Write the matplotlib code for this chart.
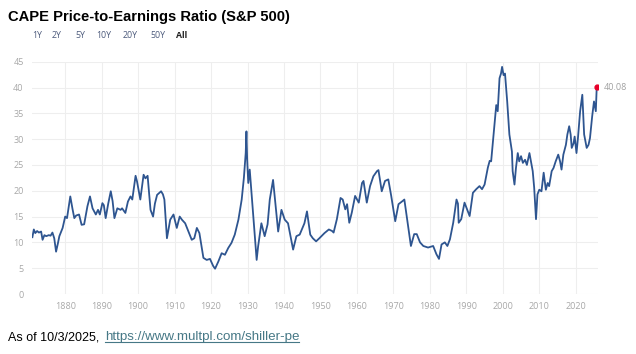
import numpy as np
import matplotlib
matplotlib.use("Agg")
import matplotlib.pyplot as plt
from matplotlib.lines import Line2D

# CAPE ratio (fractional years)
years = [1871.0, 1871.4, 1871.8, 1872.3, 1872.8, 1873.4, 1873.8, 1874.3, 1874.8, 1875.5,
         1876.0, 1876.5, 1877.0, 1877.5, 1878.0, 1878.4, 1879.3, 1880.0, 1880.5, 1881.4,
         1882.0, 1882.5, 1883.0, 1883.8, 1884.5, 1885.2, 1886.1, 1886.8, 1887.5, 1888.4,
         1889.0, 1889.5, 1890.2, 1890.6, 1891.1, 1891.8, 1892.5, 1893.0, 1893.5, 1894.3,
         1895.2, 1895.6, 1896.5, 1897.2, 1897.9, 1898.4, 1899.3, 1899.7, 1900.6, 1901.5,
         1902.0, 1902.6, 1903.4, 1904.1, 1904.6, 1905.2, 1906.3, 1906.8, 1907.2, 1907.9,
         1908.8, 1909.7, 1910.6, 1911.4, 1912.0, 1912.9, 1913.8, 1914.7, 1915.4, 1916.1,
         1916.8, 1917.9, 1918.8, 1919.7, 1920.6, 1921.1, 1922.0, 1922.9, 1923.8, 1924.7,
         1925.6, 1926.5, 1927.5, 1928.4, 1929.0, 1929.5, 1929.7, 1929.9, 1930.2, 1930.6,
         1931.5, 1932.0, 1932.5, 1932.9, 1933.8, 1934.7, 1935.5, 1936.1, 1937.0, 1937.9,
         1938.4, 1939.3, 1940.2, 1941.1, 1942.5, 1943.4, 1944.3, 1945.6, 1946.3, 1947.2,
         1947.9, 1948.8, 1949.7, 1951.1, 1952.3, 1953.2, 1953.6, 1954.5, 1955.5, 1956.1,
         1956.8, 1957.3, 1957.9, 1958.6, 1959.5, 1960.5, 1961.4, 1961.8, 1962.7, 1963.6,
         1964.5, 1965.5, 1965.9, 1966.8, 1967.7, 1968.6, 1969.4, 1970.5, 1971.4, 1972.5,
         1973.0, 1973.9, 1974.8, 1975.7, 1976.4, 1977.3, 1978.2, 1979.5, 1980.9, 1981.8,
         1982.5, 1983.2, 1984.1, 1984.8, 1985.5, 1986.4, 1987.3, 1987.7, 1987.9, 1988.6,
         1989.5, 1990.5, 1990.9, 1991.8, 1992.7, 1993.6, 1994.3, 1995.0, 1995.9, 1996.4,
         1996.8, 1997.3, 1997.7, 1998.2, 1998.6, 1999.1, 1999.5, 1999.8, 2000.2, 2000.6,
         2001.2, 2001.8, 2002.5, 2002.7, 2003.2, 2003.6, 2004.1, 2004.5, 2005.0, 2005.5,
         2006.1, 2006.6, 2007.3, 2007.7, 2008.2, 2008.6, 2009.1, 2009.5, 2010.0, 2010.6,
         2011.2, 2011.8, 2012.3, 2012.7, 2013.4, 2013.9, 2014.5, 2015.2, 2015.7, 2016.1,
         2016.6, 2017.3, 2017.7, 2018.2, 2018.6, 2018.9, 2019.4, 2019.7, 2020.2, 2020.6,
         2021.2, 2021.8, 2022.3, 2023.0, 2023.5, 2023.9, 2024.5, 2025.0, 2025.5, 2025.75]
cape = [11.0, 12.5, 11.8, 12.2, 11.9, 12.1, 10.5, 11.4, 11.2, 11.4,
        11.3, 11.9, 10.8, 8.2, 9.8, 11.2, 12.8, 15.0, 14.7, 18.9,
        16.5, 14.7, 15.2, 15.4, 13.4, 13.5, 17.0, 18.9, 16.6, 15.4,
        16.3, 15.4, 17.6, 17.2, 14.7, 17.5, 19.9, 18.0, 14.7, 16.6,
        16.3, 16.6, 15.7, 17.9, 18.9, 18.3, 22.9, 21.8, 18.3, 23.1,
        22.4, 22.9, 16.3, 15.0, 17.5, 19.2, 19.9, 19.3, 18.3, 10.8,
        14.4, 15.4, 12.8, 15.0, 14.4, 13.7, 12.1, 10.5, 10.8, 12.8,
        11.8, 7.0, 6.6, 6.8, 5.4, 4.9, 6.3, 7.9, 7.6, 8.9,
        9.9, 11.5, 14.4, 18.3, 22.5, 27.3, 31.5, 26.0, 21.5, 24.1,
        15.7, 11.0, 6.6, 9.2, 13.7, 11.2, 13.5, 18.3, 22.1, 15.7,
        12.1, 16.3, 14.4, 13.7, 8.6, 11.2, 11.5, 13.7, 16.0, 11.5,
        10.8, 10.2, 10.8, 11.8, 12.5, 12.2, 11.9, 14.5, 18.6, 18.3,
        16.4, 17.4, 13.8, 15.8, 19.0, 17.7, 21.5, 21.9, 17.7, 20.9,
        22.8, 23.8, 24.0, 19.9, 21.9, 22.2, 19.0, 14.1, 17.4, 18.0,
        18.3, 13.8, 9.3, 11.6, 11.6, 10.0, 9.3, 9.0, 9.3, 7.7,
        6.8, 9.6, 10.0, 9.3, 10.6, 13.8, 18.3, 17.5, 13.8, 14.5,
        17.7, 15.8, 15.1, 19.6, 20.3, 20.9, 20.3, 21.2, 24.5, 25.8,
        25.7, 29.6, 32.5, 36.6, 35.4, 41.8, 42.7, 44.0, 42.4, 42.7,
        37.3, 30.9, 27.6, 23.8, 21.2, 24.4, 27.3, 25.7, 26.7, 25.4,
        26.0, 25.0, 27.3, 25.7, 23.8, 20.6, 14.5, 19.3, 20.2, 19.9,
        23.5, 20.2, 21.5, 20.9, 23.8, 24.4, 25.7, 27.0, 25.7, 24.1,
        27.0, 28.9, 30.9, 32.5, 30.9, 28.3, 29.2, 30.5, 27.3, 30.2,
        35.4, 38.6, 30.9, 28.3, 28.9, 30.2, 34.4, 37.3, 35.4, 40.08]

decades = list(range(1880, 2030, 10))
yticks = list(range(0, 50, 5))
ranges = ["1Y", "2Y", "5Y", "10Y", "20Y", "50Y", "All"]

fig = plt.figure(figsize=(6.36, 3.54), dpi=100)
ax = fig.add_axes([32 / 636, 1 - 294 / 354, 566 / 636, 232.3 / 354])

ax.plot(years, cape, color="#2e5590", lw=1.3, solid_joinstyle="round")
ax.plot(years[-1], cape[-1], "o", color="#e8002a", ms=3.5, zorder=5)
ax.annotate(f"{cape[-1]:.2f}", (years[-1], cape[-1]), xytext=(5, 0),
            textcoords="offset points", va="center", fontsize=6.5,
            color="#a0a0a0", family="Open Sans")

ax.set_xlim(1870.9, 2026.1)
ax.set_ylim(0, 45)
ax.set_xticks(decades)
ax.set_yticks(yticks)
ax.grid(True, color="#eeeeee", lw=0.8)
ax.set_axisbelow(True)
for s in ax.spines.values():
    s.set_visible(False)
ax.tick_params(length=0, labelsize=6.5, labelcolor="#a8a8a8", pad=6)
for lab in ax.get_xticklabels() + ax.get_yticklabels():
    lab.set_family("Open Sans")

fig.text(8 / 636, 1 - 17 / 354, "CAPE Price-to-Earnings Ratio (S&P 500)",
         fontsize=10.6, fontweight="bold", family="Liberation Sans", va="center")

xpos = [32, 52, 75, 96, 123, 150, 176]
for x, r in zip(xpos, ranges):
    fig.text(x / 636, 1 - 35 / 354, r, fontsize=6.3, va="center", family="Open Sans",
             color="#222222" if r == "All" else "#4d5b7c",
             fontweight="bold" if r == "All" else "normal")

t1 = fig.text(8 / 636, 1 - 337 / 354, "As of 10/3/2025, ", fontsize=9,
              family="Liberation Sans", va="center")
fig.canvas.draw()
bb = t1.get_window_extent()
t2 = fig.text(bb.x1 / 636 + 2 / 636, 1 - 337 / 354, "https://www.multpl.com/shiller-pe",
              fontsize=9.6, family="Liberation Sans", va="center", color="#467886")
fig.canvas.draw()
bb2 = t2.get_window_extent()
fig.add_artist(Line2D([bb2.x0 / 636, bb2.x1 / 636], [(bb2.y0 + 1) / 354] * 2,
                      color="#467886", lw=0.8))

fig.savefig("out.png", dpi=100)
